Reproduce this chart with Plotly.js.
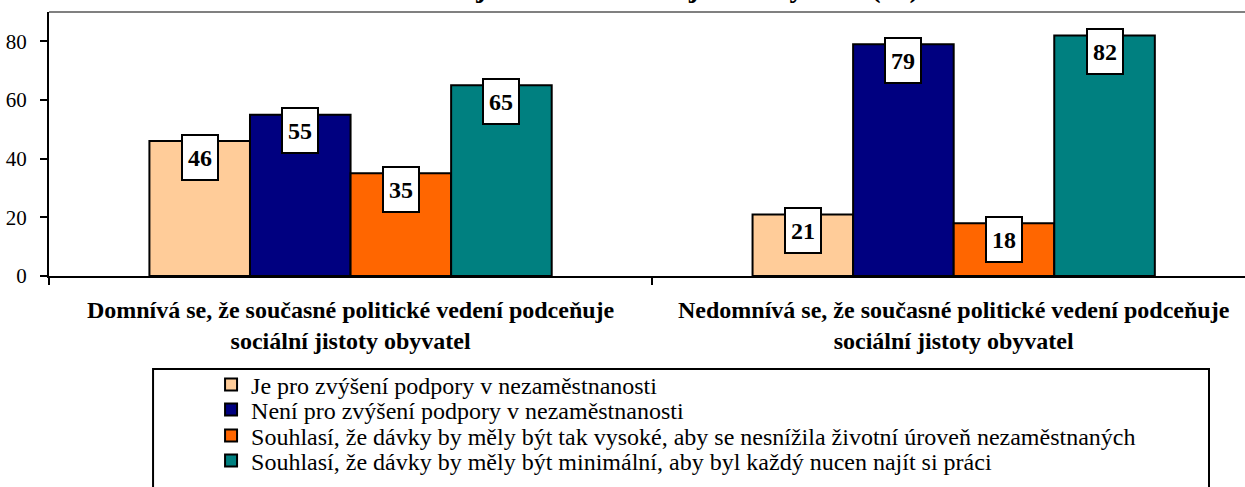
<!DOCTYPE html>
<html><head><meta charset="utf-8">
<script src="https://cdn.plot.ly/plotly-3.0.1.min.js"></script>
<style>html,body{margin:0;padding:0;background:#fff}#chart{width:1245px;height:487px}</style>
</head><body><div id="chart"></div>
<script>
const categories = [
  "Domnívá se, že současné politické vedení podceňuje<br>sociální jistoty obyvatel",
  "Nedomnívá se, že současné politické vedení podceňuje<br>sociální jistoty obyvatel"
];
const seriesNames = [
  "Je pro zvýšení podpory v nezaměstnanosti",
  "Není pro zvýšení podpory v nezaměstnanosti",
  "Souhlasí, že dávky by měly být tak vysoké, aby se nesnížila životní úroveň nezaměstnaných",
  "Souhlasí, že dávky by měly být minimální, aby byl každý nucen najít si práci"
];
const seriesColors = ["#FFCC99", "#000080", "#FF6600", "#008080"];
const valsJePro = [46, 21];
const valsNeniPro = [55, 79];
const valsVysoke = [35, 18];
const valsMinimalni = [65, 82];
const yTicks = [0, 20, 40, 60, 80];
const titleText = "na zajištění sociálních jistot obyvatel (%)";

const allVals = [valsJePro, valsNeniPro, valsVysoke, valsMinimalni];
const FONT = "Liberation Serif";
const bargap = 0.333;
const legendIds = ["legend", "legend2", "legend3", "legend4"];
const legendRowY = [-0.4129, -0.5076, -0.6061, -0.7008];

const traces = allVals.map((v, i) => ({
  type: "bar",
  x: categories,
  y: v,
  name: seriesNames[i],
  legend: legendIds[i],
  marker: {color: seriesColors[i], line: {color: "#000", width: 2}},
  hoverinfo: "skip"
}));

const annotations = [];
const slot = (1 - bargap) / allVals.length;
allVals.forEach((v, i) => {
  v.forEach((val, j) => {
    annotations.push({
      x: j + (i - (allVals.length - 1) / 2) * slot,
      y: val,
      xref: "x", yref: "y",
      text: "<b>" + val + "</b>",
      showarrow: false,
      yanchor: "middle",
      yshift: -16,
      font: {family: FONT, size: 24, color: "#000"},
      bgcolor: "#fff",
      bordercolor: "#000",
      borderwidth: 2,
      borderpad: 1,
      width: 32,
      height: 41
    });
  });
});
annotations.push({
  xref: "paper", yref: "paper",
  x: 0.515, y: 1,
  xanchor: "center", yanchor: "bottom",
  yshift: 6,
  text: "<b>" + titleText + "</b>",
  showarrow: false,
  font: {family: FONT, size: 29, color: "#000"}
});

const layout = {
  width: 1245, height: 487,
  font: {family: FONT, color: "#000"},
  margin: {l: 49, r: 0, t: 12, b: 211, pad: 0},
  paper_bgcolor: "#fff", plot_bgcolor: "#fff",
  barmode: "group", bargap: bargap, bargroupgap: 0,
  showlegend: true,
  xaxis: {
    type: "category", range: [-0.5, 1.483],
    showline: true, linecolor: "#000", linewidth: 2,
    ticks: "outside", tickson: "boundaries", ticklen: 7, tickwidth: 2, tickcolor: "#000",
    ticklabelstandoff: 11,
    tickfont: {family: FONT, size: 24, color: "#000", weight: "bold"},
    showgrid: false, zeroline: false, fixedrange: true
  },
  yaxis: {
    range: [0, 90], tickvals: yTicks,
    showline: true, linecolor: "#000", linewidth: 2,
    ticks: "outside", ticklen: 7, tickwidth: 2, tickcolor: "#000",
    ticklabelstandoff: 9,
    tickfont: {family: FONT, size: 21, color: "#000"},
    showgrid: false, zeroline: false, fixedrange: true
  },
  shapes: [
    {type: "line", xref: "paper", yref: "paper", x0: 0, x1: 1, y0: 1, y1: 1,
     line: {color: "#808080", width: 2}},
    {type: "rect", xref: "paper", yref: "paper",
     x0: 0.087, x1: 0.9699, y0: -0.86, y1: -0.3523,
     line: {color: "#000", width: 2}, fillcolor: "rgba(0,0,0,0)"}
  ],
  annotations: annotations
};
legendIds.forEach((id, i) => {
  layout[id] = {
    x: 0.1355, y: legendRowY[i], xanchor: "left", yanchor: "middle",
    font: {family: FONT, size: 24, color: "#000"},
    bgcolor: "rgba(0,0,0,0)", borderwidth: 0, itemwidth: 30
  };
});

Plotly.newPlot("chart", traces, layout, {displayModeBar: false, staticPlot: true});
</script>
</body></html>
